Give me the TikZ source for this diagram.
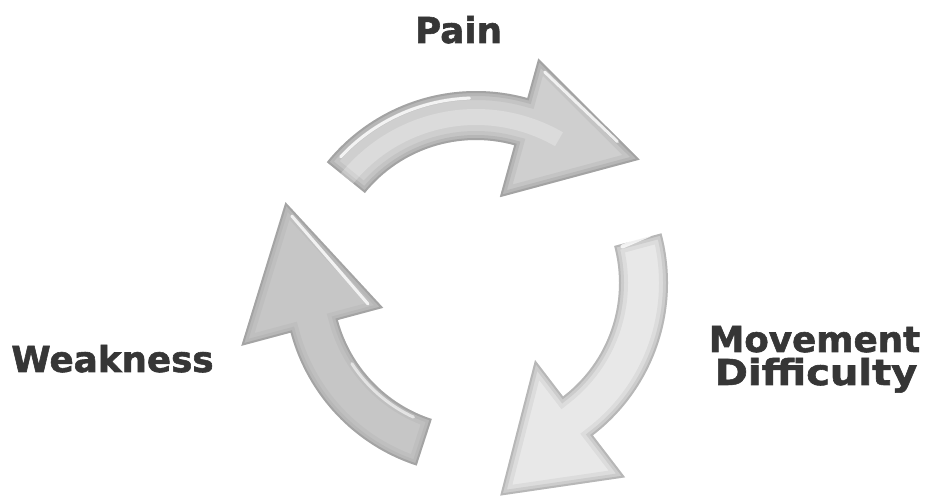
\documentclass[tikz,border=0pt]{standalone}
\usepackage{fontspec}
\setmainfont{DejaVu Sans}
\newfontfamily\heavyfont[FakeBold=1.6]{DejaVu Sans Bold}
\definecolor{labelgray}{HTML}{363636}
\newcommand\pathTop{(141:192) arc[start angle=141,end angle=74.5,radius=192] -- (74.5:233) -- (37:205) -- (74.5:89) -- (74.5:143) arc[start angle=74.5,end angle=141,radius=143] -- cycle}
\newcommand\pathRight{(15:192) arc[start angle=15,end angle=-52.5,radius=192] -- (-52.5:245) -- (-83.5:214) -- (-52.5:97) -- (-52.5:143) arc[start angle=-52.5,end angle=15,radius=143] -- cycle}
\newcommand\pathLeft{(252:192) arc[start angle=252,end angle=195,radius=192] -- (195:243) -- (157:207) -- (195:96) -- (195:143) arc[start angle=195,end angle=252,radius=143] -- cycle}
\tikzset{
  lbl/.style={font=\heavyfont\fontsize{35.7}{40}\selectfont, text=labelgray, inner sep=0pt, anchor=base},
  edgeA/.style={line width=18pt, black, opacity=0.05},
  edgeB/.style={line width=10pt, black, opacity=0.07},
  edgeC/.style={line width=4pt, black, opacity=0.10},
  gloss/.style={white, line width=3pt, line cap=round, opacity=0.8}
}
\begin{document}
\begin{tikzpicture}[x=1pt,y=1pt]
\useasboundingbox (0,0) rectangle (927,501);
\fill[white] (0,0) rectangle (927,501);
\begin{scope}[shift={(476,218)}]
  % top arrow
  \begin{scope}
    \fill[gray!38] \pathTop;
    \clip \pathTop;
    \draw[edgeA] \pathTop;
    \draw[edgeB] \pathTop;
    \draw[edgeC] \pathTop;
    \fill[white, opacity=0.25] (160:174) arc[start angle=160,end angle=60,radius=174] -- (60:158) arc[start angle=60,end angle=160,radius=158] -- cycle;
  \end{scope}
  \draw[gloss] (137:185) arc[start angle=137,end angle=92,radius=185];
  \draw[gloss] (72:222) -- (45:200);
  % right arrow
  \begin{scope}
    \fill[gray!18] \pathRight;
    \clip \pathRight;
    \draw[edgeA] \pathRight;
    \draw[edgeB] \pathRight;
    \draw[edgeC] \pathRight;
  \end{scope}
  \draw[gloss, line width=4pt] (14:151) -- (15.5:180);
  % left arrow
  \begin{scope}
    \fill[gray!45] \pathLeft;
    \clip \pathLeft;
    \draw[edgeA, opacity=0.03] \pathLeft;
    \draw[edgeB, opacity=0.04] \pathLeft;
    \draw[edgeC] \pathLeft;
  \end{scope}
  \draw[gloss] (160:196) -- (191:110);
  \draw[gloss, opacity=0.6] (213:148) arc[start angle=213,end angle=245,radius=148];
\end{scope}
\node[lbl] (pain) at (458.5,458) {Pain};
\node[lbl] (weak) at (112.5,129) {Weakness};
\node[lbl] (move) at (814.5,149) {Movement};
\node[lbl, xscale=1.12, transform shape] (diff) at (816,116) {Difficulty};
\end{tikzpicture}
\end{document}
